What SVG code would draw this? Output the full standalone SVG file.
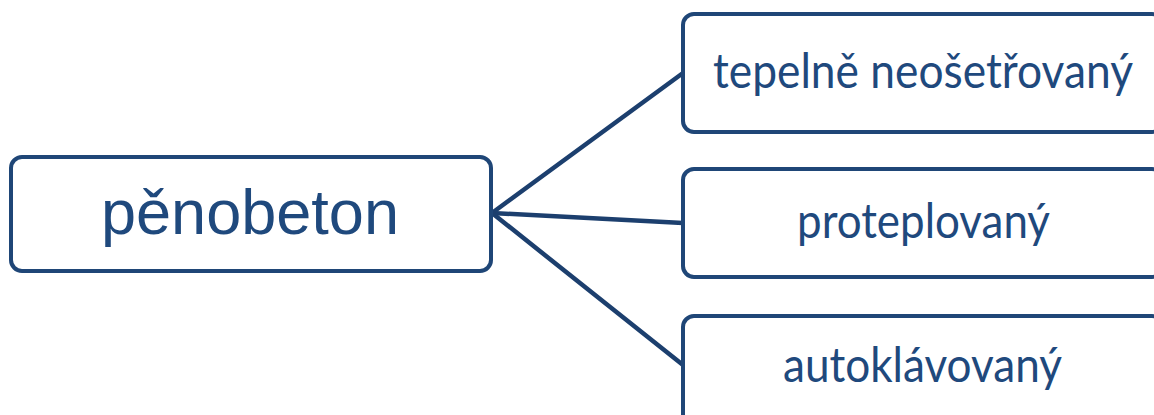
<svg xmlns="http://www.w3.org/2000/svg" width="1154" height="415" viewBox="0 0 1154 415">
<style>
.box{fill:#fff;stroke:#1f4677;stroke-width:4}
.main{font-family:"Liberation Sans",Arial,sans-serif;font-size:63px;fill:#1f497d}
.sub{font-family:Lato,"Open Sans",sans-serif;font-size:49px;fill:#1f497d}
.conn line{stroke:#1c3f6e;stroke-width:4.5;stroke-linecap:round}
</style>
<rect width="1154" height="415" fill="#fff"/>
<g id="connectors" class="conn">
<line x1="492" y1="213" x2="683" y2="73"/>
<line x1="492" y1="213" x2="683" y2="223"/>
<line x1="492" y1="213" x2="683" y2="365"/>
</g>
<g id="node-penobeton">
<rect class="box" x="11" y="157" width="480" height="114" rx="11"/>
<text class="main" x="250" y="234" text-anchor="middle" textLength="298" lengthAdjust="spacingAndGlyphs">pěnobeton</text>
</g>
<g id="node-tepelne">
<rect class="box" x="683" y="14" width="480" height="118" rx="11"/>
<text class="sub" x="713" y="88" textLength="420" lengthAdjust="spacingAndGlyphs">tepelně neošetřovaný</text>
</g>
<g id="node-proteplovany">
<rect class="box" x="683" y="169" width="480" height="108" rx="11"/>
<text class="sub" x="797" y="238" textLength="253" lengthAdjust="spacingAndGlyphs">proteplovaný</text>
</g>
<g id="node-autoklavovany">
<rect class="box" x="683" y="316" width="480" height="114" rx="11"/>
<text class="sub" x="783" y="382" textLength="279" lengthAdjust="spacingAndGlyphs">autoklávovaný</text>
</g>
</svg>
